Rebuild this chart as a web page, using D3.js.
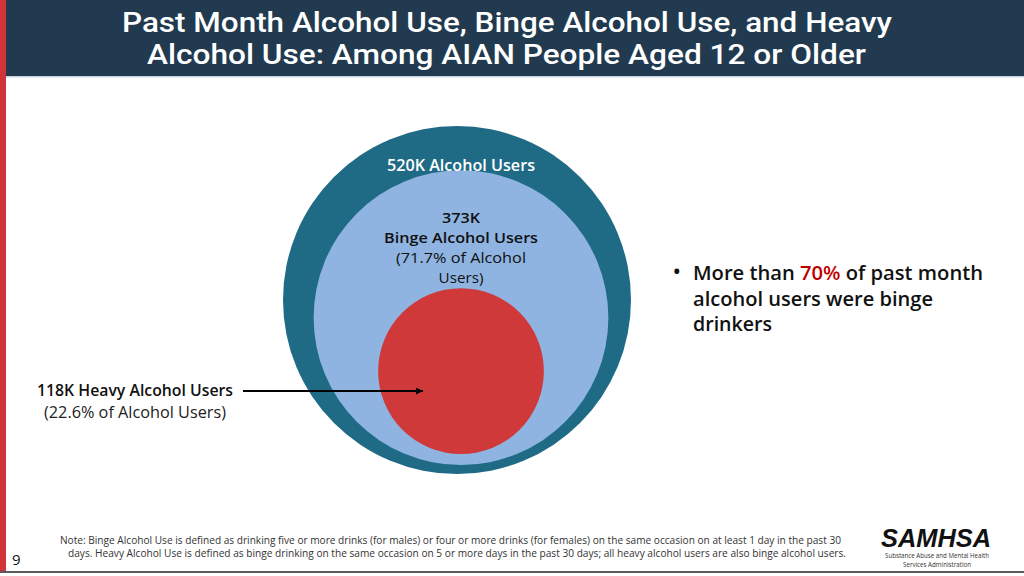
<!DOCTYPE html>
<html><head><meta charset="utf-8">
<script src="https://cdn.jsdelivr.net/npm/d3@7"></script>
<style>
html,body{margin:0;padding:0;background:#fff;}
svg{display:block;font-family:"Open Sans","Noto Sans",sans-serif;}
</style></head>
<body><svg id="c" width="1024" height="576"></svg>
<script>
// ---- data ----
const groups = ["Alcohol Users", "Binge Alcohol Users", "Heavy Alcohol Users"];
const usersK = [520, 373, 118];            // thousands of people
const pctOfUsers = [100, 71.7, 22.6];      // % of past-month alcohol users
const titleLines = ["Past Month Alcohol Use, Binge Alcohol Use, and Heavy",
                    "Alcohol Use: Among AIAN People Aged 12 or Older"];
const bulletPct = 70;
const noteLines = ["Note: Binge Alcohol Use is defined as drinking five or more drinks (for males) or four or more drinks (for females) on the same occasion on at least 1 day in the past 30",
                   "days. Heavy Alcohol Use is defined as binge drinking on the same occasion on 5 or more days in the past 30 days; all heavy alcohol users are also binge alcohol users."];
const pageNumber = "9";

// ---- styles / layout ----
const colors = ["#1f6b86", "#8fb4e2", "#d0393a"];
const svg = d3.select("#c");

// left red bar, title bar
svg.append("rect").attr("x", 0).attr("y", 0).attr("width", 6).attr("height", 572).attr("fill", "#d13438");
svg.append("rect").attr("x", 6).attr("y", 0).attr("width", 1018).attr("height", 76).attr("fill", "#213a50");
svg.append("rect").attr("x", 6).attr("y", 76).attr("width", 1018).attr("height", 1.5).attr("fill", "#c9d3dc");

const titleSpans = [[122, 892], [147, 866]];
titleLines.forEach((t, i) => {
  svg.append("text").attr("x", titleSpans[i][0]).attr("y", 32 + i * 32)
    .attr("font-family", "Roboto, 'Open Sans', sans-serif")
    .attr("textLength", titleSpans[i][1] - titleSpans[i][0]).attr("lengthAdjust", "spacingAndGlyphs")
    .attr("fill", "#fff").attr("font-size", 27).attr("font-weight", 500).text(t);
});

// bottom rule
svg.append("rect").attr("x", 0).attr("y", 571).attr("width", 1024).attr("height", 2).attr("fill", "#5a5a5a");

// ---- nested circles (area ~ users) ----
const r = d3.scaleSqrt().domain([0, d3.max(usersK)]).range([0, 174]);
const outerC = {x: 457, y: 300};
const bottomInset = [0, 9, 20];
const cxs = [457, 461, 461];
const circ = usersK.map((v, i) => {
  const rr = r(v);
  return {v, i, r: rr, cx: cxs[i], cy: outerC.y + r(usersK[0]) - rr - bottomInset[i]};
});
svg.append("g").selectAll("circle").data(circ).join("circle")
  .attr("cx", d => d.cx).attr("cy", d => d.cy).attr("r", d => d.r)
  .attr("fill", (d, i) => colors[i]);

// labels
const fmtK = v => v + "K";
svg.append("text").attr("x", 461).attr("y", 171).attr("text-anchor", "middle")
  .attr("fill", "#fff").attr("font-size", 16).attr("font-weight", 600)
  .attr("textLength", 148).attr("lengthAdjust", "spacingAndGlyphs")
  .text(fmtK(usersK[0]) + " " + groups[0]);

const bl = svg.append("g").attr("fill", "#111").attr("text-anchor", "middle").attr("font-size", 14.5);
bl.append("text").attr("x", 461).attr("y", 223).attr("font-weight", 600)
  .attr("textLength", 38).attr("lengthAdjust", "spacingAndGlyphs").text(fmtK(usersK[1]));
bl.append("text").attr("x", 461).attr("y", 243).attr("font-weight", 600)
  .attr("textLength", 154).attr("lengthAdjust", "spacingAndGlyphs").text(groups[1]);
bl.append("text").attr("x", 461).attr("y", 263)
  .attr("textLength", 130).attr("lengthAdjust", "spacingAndGlyphs").text("(" + pctOfUsers[1] + "% of Alcohol");
bl.append("text").attr("x", 461).attr("y", 283)
  .attr("textLength", 45).attr("lengthAdjust", "spacingAndGlyphs").text("Users)");

// heavy annotation
svg.append("text").attr("x", 37).attr("y", 396).attr("font-size", 16).attr("font-weight", 600)
  .attr("fill", "#111").attr("textLength", 196).attr("lengthAdjust", "spacingAndGlyphs")
  .text(fmtK(usersK[2]) + " " + groups[2]);
svg.append("text").attr("x", 44).attr("y", 418).attr("font-size", 16)
  .attr("fill", "#222").attr("textLength", 182).attr("lengthAdjust", "spacingAndGlyphs")
  .text("(" + pctOfUsers[2] + "% of Alcohol Users)");

svg.append("defs").append("marker").attr("id", "ah").attr("viewBox", "0 0 10 10")
  .attr("refX", 10).attr("refY", 5).attr("markerWidth", 8).attr("markerHeight", 7)
  .attr("markerUnits", "userSpaceOnUse").attr("orient", "auto")
  .append("path").attr("d", "M0,0L10,5L0,10z").attr("fill", "#000");
const heavy = circ[2];
svg.append("line").attr("x1", 243).attr("y1", 391).attr("x2", heavy.cx - 38).attr("y2", 391)
  .attr("stroke", "#000").attr("stroke-width", 1.8).attr("marker-end", "url(#ah)");

// bullet text
const bt = svg.append("g").attr("fill", "#111").attr("font-size", 20).attr("font-weight", 600);
bt.append("text").attr("x", 673).attr("y", 279).text("•");
const l1 = bt.append("text").attr("x", 693).attr("y", 280)
  .attr("textLength", 290).attr("lengthAdjust", "spacingAndGlyphs");
l1.append("tspan").text("More than ");
l1.append("tspan").attr("fill", "#c00000").text(bulletPct + "%");
l1.append("tspan").text(" of past month");
bt.append("text").attr("x", 693).attr("y", 306)
  .attr("textLength", 240).attr("lengthAdjust", "spacingAndGlyphs").text("alcohol users were binge");
bt.append("text").attr("x", 693).attr("y", 331)
  .attr("textLength", 79).attr("lengthAdjust", "spacingAndGlyphs").text("drinkers");

// note
const noteSpans = [[60, 841], [68, 846]];
noteLines.forEach((t, i) => {
  svg.append("text").attr("x", noteSpans[i][0]).attr("y", 544 + i * 13)
    .attr("textLength", noteSpans[i][1] - noteSpans[i][0]).attr("lengthAdjust", "spacingAndGlyphs")
    .attr("font-size", 10).attr("fill", "#333").text(t);
});

// page number
svg.append("text").attr("x", 12).attr("y", 565).attr("font-size", 15).attr("fill", "#111").text(pageNumber);

// SAMHSA logo (text)
svg.append("text").attr("x", 936).attr("y", 547).attr("text-anchor", "middle")
  .attr("font-family", "'Liberation Sans', Arial, sans-serif").attr("font-style", "italic").attr("font-weight", 700)
  .attr("font-size", 25).attr("textLength", 110).attr("lengthAdjust", "spacingAndGlyphs")
  .attr("fill", "#111").text("SAMHSA");
svg.append("text").attr("x", 937).attr("y", 558).attr("text-anchor", "middle")
  .attr("font-size", 7).attr("fill", "#333").attr("textLength", 104).attr("lengthAdjust", "spacingAndGlyphs")
  .text("Substance Abuse and Mental Health");
svg.append("text").attr("x", 937).attr("y", 567).attr("text-anchor", "middle")
  .attr("font-size", 7).attr("fill", "#333").attr("textLength", 68).attr("lengthAdjust", "spacingAndGlyphs")
  .text("Services Administration");
</script></body></html>
